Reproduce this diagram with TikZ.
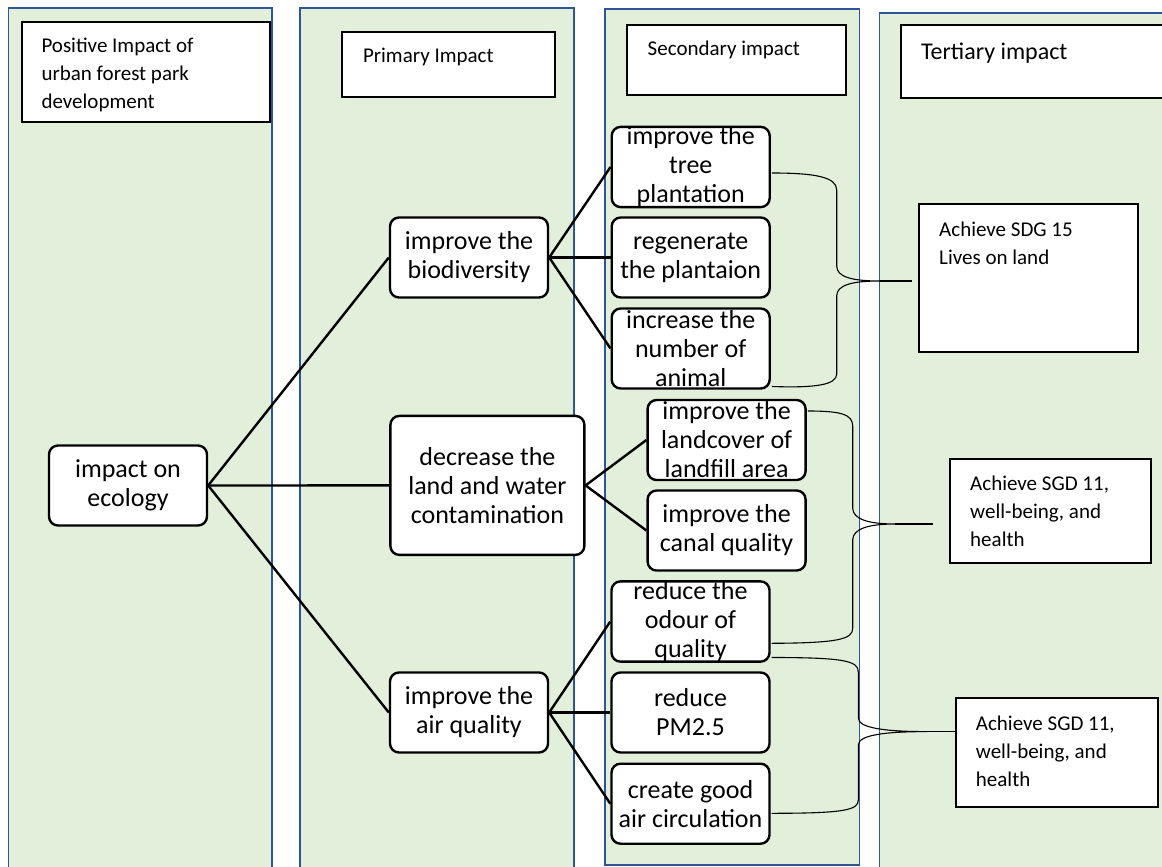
\documentclass[tikz,border=0pt]{standalone}
\usepackage{fontspec}
\setmainfont{Carlito}
\definecolor{parkgreen}{HTML}{E2EFDA}
\definecolor{parkblue}{HTML}{2F5597}
\def\ecocolumn{(8.4,8.3) rectangle (271.7,880)}
\def\primcolumn{(299.7,8.3) rectangle (574,880)}
\def\secocolumn{(605.3,9) rectangle (859.4,865)}
\def\tertcolumn{(879.4,13.3) rectangle (1180,880)}

\begin{document}
\begin{tikzpicture}[x=1pt, y=-1pt,
    column/.style={fill=parkgreen, draw=parkblue, line width=1.8pt},
    cell/.style={draw, fill=white, line width=2.4pt, rounded corners=9pt, align=center,
      inner xsep=2pt, inner ysep=0pt, minimum width=158pt, minimum height=80pt,
      font=\fontsize{26}{29}\selectfont},
    headbox/.style={draw, fill=white, line width=2pt, anchor=north west, inner sep=0pt},
    boxtext/.style={anchor=base west, align=left, inner sep=0pt, font=\fontsize{21}{28}\selectfont},
    link/.style={line width=2.4pt},
    brace/.style={line width=1.1pt}]

      \clip (0,0) rectangle (1162,867);

      % Columns
      \filldraw[column] \ecocolumn;
      \filldraw[column] \primcolumn;
      \filldraw[column] \secocolumn;
      \filldraw[column] \tertcolumn;

      % Headings (base of a text node sits on its last line)
      \node[headbox, minimum width=247.7pt, minimum height=99.7pt] (posbox) at (21,21) {};
      \node[boxtext] (postext) at ([shift={(20.3,87.4)}]posbox.north west) {Positive Impact of\\urban forest park\\development};

      \node[headbox, minimum width=212.8pt, minimum height=65pt] (primbox) at (341,30.7) {};
      \node[boxtext] (primtext) at ([shift={(21.8,32.3)}]primbox.north west) {Primary Impact};

      \node[headbox, minimum width=218.4pt, minimum height=70pt] (secobox) at (626.4,24) {};
      \node[boxtext] (secotext) at ([shift={(21.1,32)}]secobox.north west) {Secondary impact};

      \node[headbox, minimum width=300pt, minimum height=73.3pt] (tertbox) at (900,24) {};
      \node[boxtext, font=\fontsize{24}{28}\selectfont] (terttext) at ([shift={(20.8,35.5)}]tertbox.north west) {Tertiary impact};

      % Ecology
      \node[cell] (ecology) at (128,485.5) {impact on\\ecology};

      % Primary
      \node[cell] (biodiv) at (469,257.5) {improve the\\biodiversity};
      \node[cell, minimum width=194pt, minimum height=139pt] (contam) at (487.4,485.4) {decrease the\\land and water\\contamination};
      \node[cell] (air) at (469,712.5) {improve the\\air quality};

      % Secondary
      \node[cell] (tree) at (690.7,167) {improve the\\tree\\plantation};
      \node[cell] (regen) at (690.7,257.5) {regenerate\\the plantaion};
      \node[cell] (animal) at (690.7,348.5) {increase the\\number of\\animal};
      \node[cell] (landcover) at (726.6,440) {improve the\\landcover of\\landfill area};
      \node[cell] (canal) at (726.6,530.5) {improve the\\canal quality};
      \node[cell] (odour) at (690.5,621.5) {reduce the\\odour of\\quality};
      \node[cell] (pm) at (690.5,712.5) {reduce\\PM2.5};
      \node[cell] (circulation) at (690.5,803.7) {create good\\air circulation};

      % Tertiary
      \node[headbox, minimum width=219.2pt, minimum height=147.7pt] (sdg15) at (917.8,203.3) {};
      \node[boxtext] (sdg15text) at ([shift={(21.2,60.7)}]sdg15.north west) {Achieve SDG 15\\Lives on land};

      \node[headbox, minimum width=201.5pt, minimum height=103.7pt] (sgdland) at (948.5,458) {};
      \node[boxtext] (sgdlandtext) at ([shift={(21.5,88)}]sgdland.north west) {Achieve SGD 11,\\well-being, and\\health};

      \node[headbox, minimum width=202.4pt, minimum height=108.7pt] (sgdair) at (954.6,697) {};
      \node[boxtext] (sgdairtext) at ([shift={(21.1,89)}]sgdair.north west) {Achieve SGD 11,\\well-being, and\\health};

      % Links
      \draw[link] (ecology.east) -- (biodiv.west);
      \draw[link] (ecology.east) -- (contam.west);
      \draw[link] (ecology.east) -- (air.west);

      \draw[link] (biodiv.east) -- (tree.west);
      \draw[link] (biodiv.east) -- (regen.west);
      \draw[link] (biodiv.east) -- (animal.west);

      \draw[link] (contam.east) -- (landcover.west);
      \draw[link] (contam.east) -- (canal.west);

      \draw[link] (air.east) -- (odour.west);
      \draw[link] (air.east) -- (pm.west);
      \draw[link] (air.east) -- (circulation.west);

      % Braces
      \coordinate (meet1) at (880,281);
      \coordinate (tip1) at (911.7,281);
      \coordinate (meet2) at (895,524);
      \coordinate (tip2) at (932.7,524);
      \coordinate (meet3) at (927,731.6);

      \draw[brace] ([shift={(1,6)}]tree.east) .. controls (815,173) and (836.7,177) .. (836.7,190)
        -- (836.7,266) .. controls (836.7,277) and (852,281) .. (meet1)
        .. controls (852,281) and (836.7,285) .. (836.7,296)
        -- (836.7,374) .. controls (836.7,385) and (815,388) .. ([shift={(1,38)}]animal.east);
      \draw[brace] (meet1) -- (tip1);

      \draw[brace] ([shift={(1,-29)}]landcover.east) .. controls (840,411) and (852.7,414) .. (852.7,426)
        -- (852.7,508) .. controls (852.7,519) and (868,524) .. (meet2)
        .. controls (868,524) and (852.7,529) .. (852.7,540)
        -- (852.7,628) .. controls (852.7,639) and (840,643) .. ([shift={(1,21.8)}]odour.east);
      \draw[brace] (meet2) -- (tip2);

      \draw[brace] ([shift={(1,36)}]odour.east) .. controls (845,657.5) and (858.3,661) .. (858.3,672)
        -- (858.3,718) .. controls (858.3,728) and (885,731.6) .. (meet3)
        .. controls (885,731.6) and (858.3,735) .. (858.3,745)
        -- (858.3,800) .. controls (858.3,810) and (845,813.3) .. ([shift={(1,9.6)}]circulation.east);
      \draw[brace] (meet3) -- (meet3 -| sgdair.west);

\end{tikzpicture}
\end{document}
